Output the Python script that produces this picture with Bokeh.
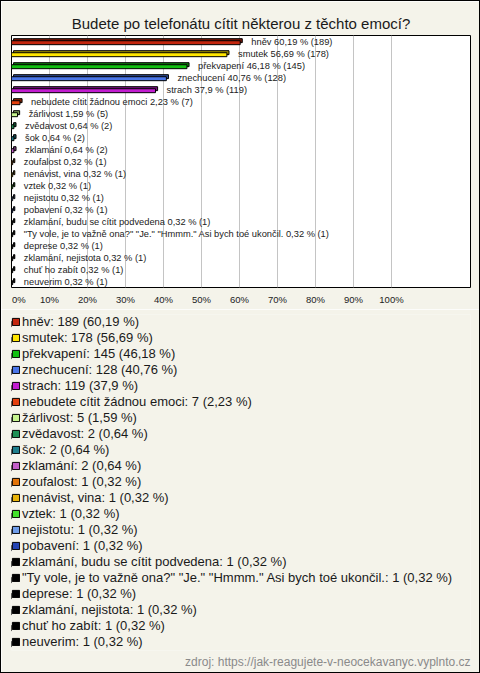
from bokeh.plotting import figure
from bokeh.models import (ColumnDataSource, Range1d, FixedTicker, Legend, LegendItem,
                          Title, LinearAxis)
from bokeh.layouts import column
from bokeh.embed import file_html
from bokeh.resources import INLINE

# ---- data -------------------------------------------------------------
categories = [
    "hněv", "smutek", "překvapení", "znechucení", "strach",
    "nebudete cítit žádnou emoci", "žárlivost", "zvědavost", "šok", "zklamání",
    "zoufalost", "nenávist, vina", "vztek", "nejistotu", "pobavení",
    "zklamání, budu se cítit podvedena",
    "\"Ty vole, je to važně ona?\" \"Je.\" \"Hmmm.\" Asi bych toé ukončil.",
    "deprese", "zklamání, nejistota", "chuť ho zabít", "neuverim",
]
counts = [189, 178, 145, 128, 119, 7, 5, 2, 2, 2,
          1, 1, 1, 1, 1, 1, 1, 1, 1, 1, 1]
percents = [60.19, 56.69, 46.18, 40.76, 37.9, 2.23, 1.59, 0.64, 0.64, 0.64,
            0.32, 0.32, 0.32, 0.32, 0.32, 0.32, 0.32, 0.32, 0.32, 0.32, 0.32]
colors = ["#C3260E", "#FFE600", "#12C012", "#4A76E8", "#C21DD0",
          "#E4400E", "#C6F48E", "#1E9055", "#1E7E8C", "#C35EC8",
          "#E27308", "#E8B40A", "#44E22C", "#6E9CE8", "#2444B4",
          "#000000", "#000000", "#000000", "#000000", "#000000", "#000000"]
tick_values = [0, 10, 20, 30, 40, 50, 60, 70, 80, 90, 100]

TITLE = "Budete po telefonátu cítit některou z těchto emocí?"
SOURCE = "zdroj: https://jak-reagujete-v-neocekavanyc.vyplnto.cz"

# ---- helpers ------------------------------------------------------------
def darker(hex_color, f=0.62):
    h = hex_color.lstrip("#")
    r, g, b = (int(h[i:i + 2], 16) for i in (0, 2, 4))
    return "#%02x%02x%02x" % (int(r * f), int(g * f), int(b * f))

def fmt(v):
    return ("%g" % v).replace(".", ",")

rows = list(range(len(categories)))
DX = 0.55   # 3d depth in % units (~2px)
DY = 0.17   # 3d depth in row units (~2px)
src = ColumnDataSource(dict(
    y=[r + 0.1 for r in rows],
    yb=[r + 0.1 - DY for r in rows],
    right=percents,
    rightb=[p + DX for p in percents],
    color=colors,
    dark=[darker(c) for c in colors],
    label=["%s %s %% (%d)" % (c, fmt(p), n) for c, p, n in zip(categories, percents, counts)],
    ly=rows,
))

BG = "#F4F3EA"
FONT = "Liberation Sans"

# ---- chart ------------------------------------------------------------
p = figure(width=478, height=308,
           x_range=Range1d(0, 120.8), y_range=Range1d(20.5, -0.5),
           output_backend="svg", toolbar_location=None,
           min_border_left=10, min_border_right=9, min_border_top=34, min_border_bottom=22,
           background_fill_color="white", border_fill_color=BG,
           x_axis_location=None, y_axis_location=None)

p.outline_line_color = "black"
p.outline_line_width = 1

p.title.text = TITLE
p.title.align = "center"
p.title.text_font = FONT
p.title.text_font_size = "15px"
p.title.text_font_style = "normal"
p.title.text_color = "#1a1a1a"
p.title.standoff = 8

p.ygrid.grid_line_color = None

p.hbar(y="yb", left=DX, right="rightb", height=0.33, source=src,
       fill_color="dark", line_color="black", line_width=1)
front = p.hbar(y="y", left=0, right="right", height=0.33, source=src,
               fill_color="color", line_color="black", line_width=1)

p.text(x="rightb", y="ly", text="label", source=src, x_offset=9,
       text_baseline="middle", text_align="left",
       text_font={"value": FONT}, text_font_size={"value": "9.3px"},
       text_color="#222222")

ax = LinearAxis(ticker=FixedTicker(ticks=tick_values))
ax.axis_line_color = None
ax.major_tick_line_color = None
ax.minor_tick_line_color = None
ax.major_tick_out = 0
ax.major_tick_in = 0
ax.minor_tick_out = 0
ax.minor_tick_in = 0
ax.major_label_standoff = 6
ax.major_label_text_font = FONT
ax.major_label_text_font_size = "9.5px"
ax.major_label_text_color = "#222222"
ax.major_label_overrides = {t: ("%d%%" % t) for t in tick_values}
ax.major_label_overrides[0] = "\u00a0\u00a0\u00a0\u00a00%"
p.add_layout(ax, "below")
p.xgrid.ticker = FixedTicker(ticks=tick_values)
p.xgrid.grid_line_color = "#C4C4C4"
p.xgrid.grid_line_width = 1

# ---- legend figure ------------------------------------------------------
q = figure(width=478, height=363,
           x_range=Range1d(1000, 1001), y_range=Range1d(20.5, -0.5),
           output_backend="svg", toolbar_location=None,
           min_border_left=10, min_border_right=9, min_border_top=5, min_border_bottom=22,
           background_fill_color=BG, border_fill_color=BG,
           x_axis_location=None, y_axis_location=None)
q.outline_line_color = None
q.grid.grid_line_color = None
leg_r = q.hbar(y="y", left=0, right="right", height=0.33, source=src,
               fill_color="color", line_color="black", line_width=1)

items = [LegendItem(label="%s: %d (%s %%)" % (c, n, fmt(pc)), renderers=[leg_r], index=i)
         for i, (c, n, pc) in enumerate(zip(categories, counts, percents))]
legend = Legend(items=items, location="top_left", orientation="vertical",
                spacing=1, padding=0, margin=0,
                glyph_width=9, glyph_height=9, label_standoff=2,
                label_height=15,
                label_text_font=FONT, label_text_font_size="13px",
                label_text_color="#1a1a1a",
                border_line_color=None, background_fill_alpha=0)
q.add_layout(legend)

src_title = Title(text=SOURCE, align="right", text_font=FONT,
                  text_font_size="12px", text_font_style="normal",
                  text_color="#8a8a8a", standoff=5)
q.add_layout(src_title, "below")

layout = column(p, q, spacing=0, styles={"border": "1px solid black"})

open("out.html", "w").write(file_html(layout, INLINE))
